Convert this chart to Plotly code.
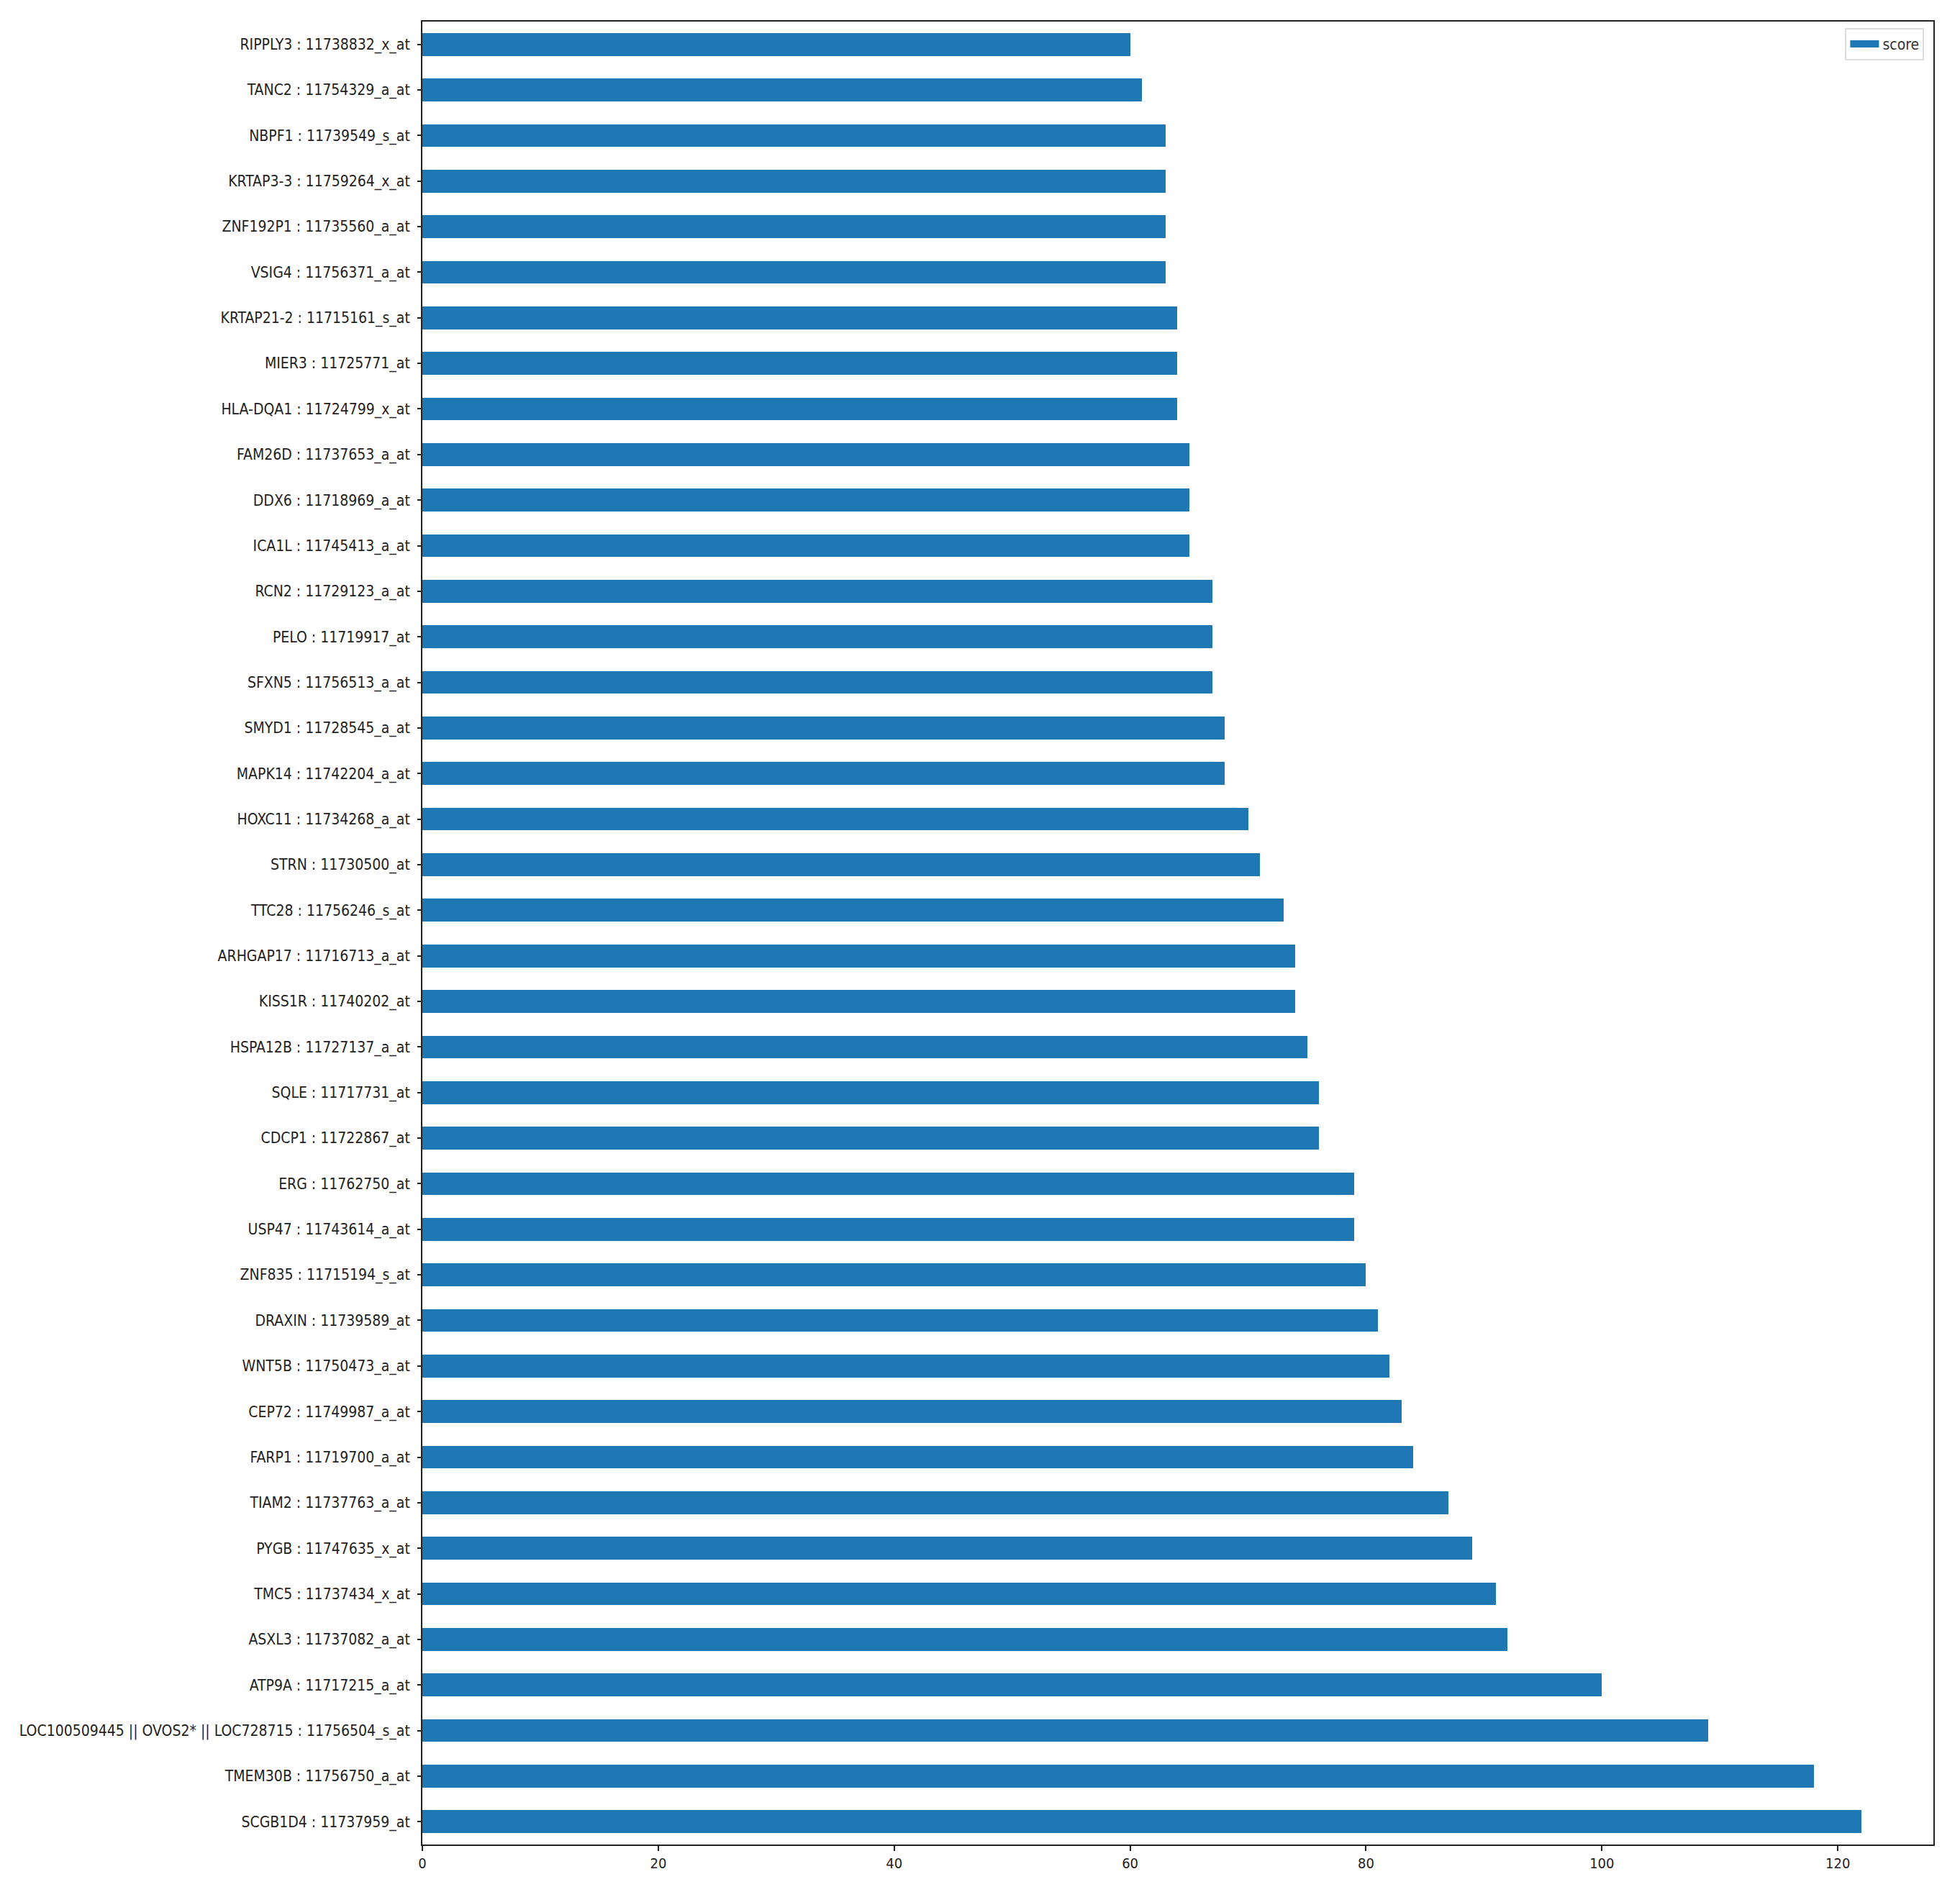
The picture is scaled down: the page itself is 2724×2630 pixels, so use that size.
import plotly.graph_objects as go

# Categories listed top-to-bottom as shown in the chart
genes = [
    "RIPPLY3 : 11738832_x_at",
    "TANC2 : 11754329_a_at",
    "NBPF1 : 11739549_s_at",
    "KRTAP3-3 : 11759264_x_at",
    "ZNF192P1 : 11735560_a_at",
    "VSIG4 : 11756371_a_at",
    "KRTAP21-2 : 11715161_s_at",
    "MIER3 : 11725771_at",
    "HLA-DQA1 : 11724799_x_at",
    "FAM26D : 11737653_a_at",
    "DDX6 : 11718969_a_at",
    "ICA1L : 11745413_a_at",
    "RCN2 : 11729123_a_at",
    "PELO : 11719917_at",
    "SFXN5 : 11756513_a_at",
    "SMYD1 : 11728545_a_at",
    "MAPK14 : 11742204_a_at",
    "HOXC11 : 11734268_a_at",
    "STRN : 11730500_at",
    "TTC28 : 11756246_s_at",
    "ARHGAP17 : 11716713_a_at",
    "KISS1R : 11740202_at",
    "HSPA12B : 11727137_a_at",
    "SQLE : 11717731_at",
    "CDCP1 : 11722867_at",
    "ERG : 11762750_at",
    "USP47 : 11743614_a_at",
    "ZNF835 : 11715194_s_at",
    "DRAXIN : 11739589_at",
    "WNT5B : 11750473_a_at",
    "CEP72 : 11749987_a_at",
    "FARP1 : 11719700_a_at",
    "TIAM2 : 11737763_a_at",
    "PYGB : 11747635_x_at",
    "TMC5 : 11737434_x_at",
    "ASXL3 : 11737082_a_at",
    "ATP9A : 11717215_a_at",
    "LOC100509445 || OVOS2* || LOC728715 : 11756504_s_at",
    "TMEM30B : 11756750_a_at",
    "SCGB1D4 : 11737959_at",
]

scores = [
    60, 61, 63, 63, 63, 63, 64, 64, 64, 65,
    65, 65, 67, 67, 67, 68, 68, 70, 71, 73,
    74, 74, 75, 76, 76, 79, 79, 80, 81, 82,
    83, 84, 87, 89, 91, 92, 100, 109, 118, 122,
]

x_ticks = [0, 20, 40, 60, 80, 100, 120]

BLUE = "#1f77b4"
FONT = "Liberation Sans Narrow, DejaVu Sans Condensed, Arial Narrow, DejaVu Sans, sans-serif"

fig = go.Figure()
fig.add_trace(go.Bar(
    x=scores,
    y=genes,
    orientation="h",
    width=0.5,
    name="score",
    marker=dict(color=BLUE, line=dict(width=0)),
    showlegend=False,
))
# legend entry drawn as a wide rectangle (matplotlib style patch)
fig.add_trace(go.Scatter(
    x=[None], y=[None], mode="lines", name="score",
    line=dict(color=BLUE, width=18),
    showlegend=True, hoverinfo="skip",
))

fig.update_layout(
    width=2724,
    height=2630,
    margin=dict(l=579, r=45, t=22, b=74, pad=0),
    paper_bgcolor="white",
    plot_bgcolor="white",
    font=dict(family=FONT, size=21, color="#222222"),
    bargap=0,
    legend=dict(
        x=0.994, y=0.9965, xanchor="right", yanchor="top",
        bgcolor="white", bordercolor="#dddddd", borderwidth=2,
        font=dict(family=FONT, size=21, color="#333333"),
        itemwidth=40,
    ),
    xaxis=dict(
        range=[0, 128.1],
        tickvals=x_ticks,
        ticktext=[str(v) for v in x_ticks],
        ticks="outside", ticklen=7, tickwidth=1.5, tickcolor="#222",
        showgrid=False, zeroline=False,
        showline=True, linecolor="#222", linewidth=2, mirror=True,
        tickfont=dict(family=FONT, size=20, color="#222"),
        automargin=False,
    ),
    yaxis=dict(
        type="category",
        categoryorder="array",
        categoryarray=genes,
        range=[39.5, -0.5],
        ticks="outside", ticklen=5, tickwidth=1.5, tickcolor="#222",
        showgrid=False, zeroline=False,
        showline=True, linecolor="#222", linewidth=2, mirror=True,
        tickfont=dict(family=FONT, size=21, color="#222"),
        ticklabelstandoff=6,
        automargin=False,
    ),
)

fig.write_html("out.html")
